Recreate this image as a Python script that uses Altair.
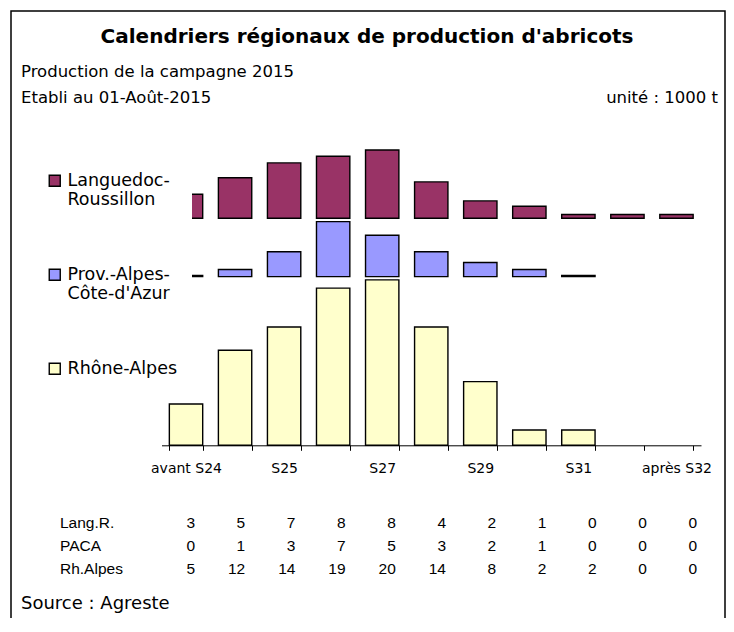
import json
import altair as alt
import pandas as pd

# ---------------- data ----------------
categories = ["avant S24", "S24", "S25", "S26", "S27", "S28", "S29",
              "S30", "S31", "S32", "après S32"]
axis_labels_shown = ["avant S24", "S25", "S27", "S29", "S31", "après S32"]

series_names = ["Languedoc-|Roussillon", "Prov.-Alpes-|Côte-d'Azur", "Rhône-Alpes"]
series_colors = ["#993366", "#9999FF", "#FFFFCC"]

# bar heights (1000 t) as drawn
lang_values = [2.9, 4.9, 6.7, 7.5, 8.25, 4.4, 2.1, 1.45, 0.45, 0.45, 0.45]
paca_values = [0.15, 0.85, 3.0, 6.65, 5.0, 3.0, 1.7, 0.85, 0.15, None, None]
rh_values = [5.0, 11.5, 14.3, 19.0, 20.0, 14.3, 7.7, 1.85, 1.85, None, None]
# stacking baseline of each region band (value units)
series_bases = [27.45, 20.4, 0.0]

# table under the chart (rounded figures)
table_rows = ["Lang.R.", "PACA", "Rh.Alpes"]
table_lang = [3, 5, 7, 8, 8, 4, 2, 1, 0, 0, 0]
table_paca = [0, 1, 3, 7, 5, 3, 2, 1, 0, 0, 0]
table_rh = [5, 12, 14, 19, 20, 14, 8, 2, 2, 0, 0]

# ---------------- tables for the library ----------------
bar_rows = []
for name, vals, base in zip(series_names, [lang_values, paca_values, rh_values], series_bases):
    for c, v in zip(categories, vals):
        if v is None:
            continue
        bar_rows.append({"cat": c, "series": name, "y0": base, "y1": base + v})
bars_df = pd.DataFrame(bar_rows)

tab_rows = []
for r, vals in zip(table_rows, [table_lang, table_paca, table_rh]):
    for c, v in zip(categories, vals):
        tab_rows.append({"row": r, "cat": c, "value": v})
table_df = pd.DataFrame(tab_rows)

# ---------------- layout ----------------
W, H = 714, 625
ZERO_Y = 434.3
PX_PER_UNIT = 8.27
FONT = "DejaVu Sans"

x_scale = alt.Scale(domain=categories, range=[150.5, 690], paddingInner=0.32, paddingOuter=0.16)
y_scale = alt.Scale(domain=[0, 50], range=[ZERO_Y, ZERO_Y - 50 * PX_PER_UNIT], nice=False, zero=False)

label_expr = "indexof(%s, datum.label) >= 0 ? datum.label : ''" % json.dumps(axis_labels_shown, ensure_ascii=False)

bars = alt.Chart(bars_df).mark_bar(stroke="black", strokeWidth=1.4).encode(
    x=alt.X("cat:N", sort=categories, scale=x_scale,
            axis=alt.Axis(title=None, orient="bottom", offset=ZERO_Y - H, tickBand="extent",
                          labelExpr=label_expr, labelAngle=0, labelOverlap=False,
                          labelFont=FONT, labelFontSize=14, labelColor="black",
                          labelPadding=11, tickSize=5, tickColor="black",
                          domainColor="black", domainWidth=1, tickWidth=1, grid=False)),
    y=alt.Y("y0:Q", scale=y_scale, axis=None),
    y2="y1:Q",
    color=alt.Color("series:N", scale=alt.Scale(domain=series_names, range=series_colors),
                    legend=alt.Legend(title=None, orient="none", legendX=21, legendY=147,
                                      labelExpr="split(datum.label, '|')",
                                      labelFont=FONT, labelFontSize=17.5, labelColor="black",
                                      labelOffset=4, labelLimit=300,
                                      symbolType="square", symbolSize=121,
                                      symbolStrokeColor="black", symbolStrokeWidth=1.4,
                                      rowPadding=56, padding=14, fillColor="white")),
)

table = alt.Chart(table_df).mark_text(align="right", baseline="middle", font="Liberation Sans",
                                      fontSize=15.5, color="black").encode(
    x=alt.X("cat:N", scale=alt.Scale(type="point", domain=categories, range=[184, 686], padding=0), axis=None),
    y=alt.Y("row:N", scale=alt.Scale(type="point", domain=table_rows, range=[512, 558], padding=0), axis=None),
    text="value:Q",
)

row_labels = alt.Chart(pd.DataFrame({"row": table_rows})).mark_text(
    align="left", baseline="middle", font="Liberation Sans", fontSize=15.5, color="black").encode(
    x=alt.value(49),
    y=alt.Y("row:N", scale=alt.Scale(type="point", domain=table_rows, range=[512, 558], padding=0), axis=None),
    text="row:N",
)

dummy = pd.DataFrame({"a": [0]})


def note(text, x, y, align="left", size=16.5, weight="normal"):
    return alt.Chart(dummy).mark_text(text=text, align=align, baseline="alphabetic", font=FONT,
                                      fontSize=size, fontWeight=weight, color="black").encode(
        x=alt.value(x), y=alt.value(y))


notes = [
    note("Calendriers régionaux de production d'abricots", 356, 31.5, align="center", size=20, weight="bold"),
    note("Production de la campagne 2015", 10, 66.3),
    note("Etabli au 01-Août-2015", 10, 91.7),
    note("unité : 1000 t", 707, 91.7, align="right"),
    note("Source : Agreste", 10, 598, size=18),
]

chart = alt.layer(bars, table, row_labels, *notes).resolve_scale(
    x="independent", y="independent"
).properties(
    width=W, height=H,
    autosize=alt.AutoSizeParams(type="none"),
    padding={"left": 3, "top": 3, "right": 1, "bottom": -18},
    background="white",
).configure_view(stroke="black", strokeWidth=1.5, fill="white")

chart.save("out.html", embed_options={"renderer": "svg", "actions": False})
